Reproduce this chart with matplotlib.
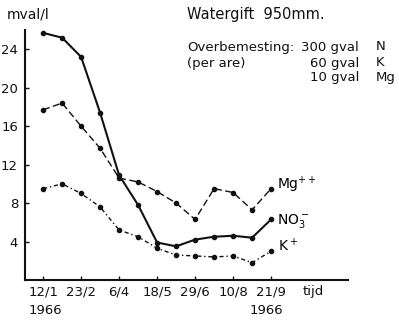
import numpy as np
import pandas as pd
import matplotlib
matplotlib.use("Agg")
import matplotlib.pyplot as plt

plt.rcParams.update({
    'font.family': 'DejaVu Sans',
    'font.size': 9,
})

# sampling dates, every 3 weeks in 1966
dates = pd.to_datetime([
    '1966-01-12', '1966-02-02', '1966-02-23', '1966-03-16', '1966-04-06',
    '1966-04-27', '1966-05-18', '1966-06-08', '1966-06-29', '1966-07-20',
    '1966-08-10', '1966-08-31', '1966-09-21'])

# mval/l
no3 = [25.7, 25.2, 23.2, 17.4, 10.9, 7.8, 3.9, 3.5, 4.2, 4.5, 4.6, 4.4, 6.3]
mg = [17.7, 18.4, 16.0, 13.7, 10.6, 10.2, 9.2, 8.0, 6.3, 9.5, 9.1, 7.3, 9.5]
k = [9.5, 10.0, 9.0, 7.6, 5.2, 4.5, 3.3, 2.6, 2.5, 2.4, 2.5, 1.8, 3.0]

tick_dates = pd.to_datetime(['1966-01-12', '1966-02-23', '1966-04-06',
                             '1966-05-18', '1966-06-29', '1966-08-10',
                             '1966-09-21'])
tick_labels = ['12/1', '23/2', '6/4', '18/5', '29/6', '10/8', '21/9']
y_ticks = [4, 8, 12, 16, 20, 24]

fig = plt.figure(figsize=(3.99, 3.2), dpi=100)
ax = fig.add_axes([25 / 399, 40 / 320, 323 / 399, 250 / 320])

ink = '#111111'
ax.plot(dates, no3, color=ink, lw=1.5, marker='o', ms=3, solid_capstyle='round')
ax.plot(dates, mg, color=ink, lw=1.0, ls=(0, (5, 2.5)), marker='o', ms=3)
ax.plot(dates, k, color=ink, lw=1.0, ls=(0, (3, 2, 1, 2)), marker='o', ms=3)

ax.set_ylim(0, 26)
ax.set_xlim(dates[0] - pd.Timedelta(days=20), dates[0] + pd.Timedelta(days=337))
ax.set_yticks(y_ticks)
ax.set_yticklabels([str(v) for v in y_ticks], fontsize=9.5)
ax.set_xticks(tick_dates)
ax.set_xticklabels(tick_labels, fontsize=9.5)
ax.tick_params(axis='both', direction='in', length=3, width=1, colors=ink, pad=4)
ax.tick_params(axis='y', pad=5)
for s in ['top', 'right']:
    ax.spines[s].set_visible(False)
for s in ['left', 'bottom']:
    ax.spines[s].set_linewidth(1.5)
    ax.spines[s].set_color(ink)

# series labels
ax.text(dates[-1] + pd.Timedelta(days=6), mg[-1] + 0.4, 'Mg$^{++}$', fontsize=10, va='center')
ax.text(dates[-1] + pd.Timedelta(days=6), no3[-1] - 0.2, 'NO$_3^-$', fontsize=10, va='center')
ax.text(dates[-1] + pd.Timedelta(days=8), k[-1] + 0.6, 'K$^+$', fontsize=10, va='center')

# texts in figure pixel coords
def ftext(x, y, s, **kw):
    fig.text(x / 399, 1 - y / 320, s, color=ink, va='center', **kw)

fs = 9.5
ftext(7, 15, 'mval/l', fontsize=10)
ftext(187, 15, 'Watergift  950mm.', fontsize=10.5)
ftext(187, 47, 'Overbemesting:', fontsize=fs)
ftext(187, 63, '(per are)', fontsize=fs)
for y, amt, el in [(47, '300 gval', 'N'), (63, '60 gval', 'K'), (78, '10 gval', 'Mg')]:
    ftext(359, y, amt, fontsize=fs, ha='right')
    ftext(376, y, el, fontsize=fs)
ftext(45, 311, '1966', fontsize=9.5, ha='center')
ftext(266, 311, '1966', fontsize=9.5, ha='center')
ftext(313, 291, 'tijd', fontsize=9.5, ha='center')

fig.savefig('out.png', dpi=100)
